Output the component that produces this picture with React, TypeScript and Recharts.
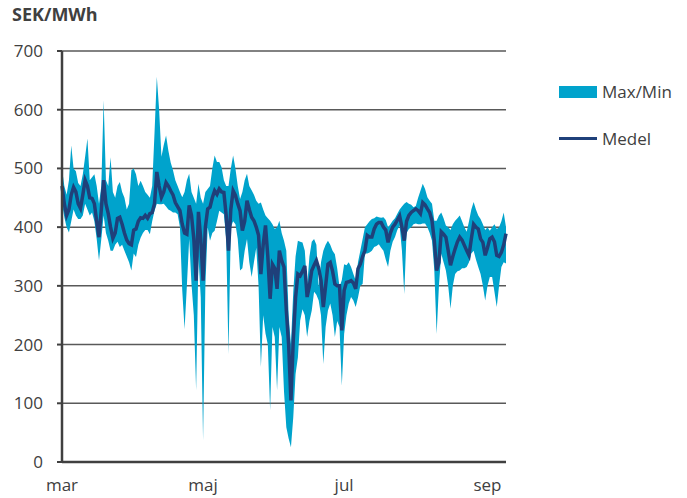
import { ComposedChart, Area, Line, XAxis, YAxis, CartesianGrid } from 'recharts';

// Daily spot prices (SEK/MWh), 1 Mar -> ~9 Sep
const monthTicks = [0, 61, 122, 184];
const monthLabels = ['mar', 'maj', 'jul', 'sep'];
const yTicks = [0, 100, 200, 300, 400, 500, 600, 700];

const medel = [
  470, 440, 420, 430, 455, 468, 460, 440, 432, 455, 480, 470, 450, 449, 440, 410, 383, 430, 480, 440, 423, 400, 381, 390, 415, 417, 405, 390, 378, 372, 370, 395,
  397, 410, 416, 415, 420, 415, 423, 425, 440, 494, 470, 451, 460, 476, 470, 462, 455, 442, 435, 428, 405, 390, 388, 437, 420, 380, 309, 426, 380, 309, 400, 431, 434,
  450, 462, 456, 465, 460, 459, 420, 360, 430, 462, 454, 440, 428, 394, 410, 445, 430, 417, 411, 400, 386, 320, 370, 403, 350, 278, 337, 330, 295, 360, 343, 332, 258,
  200, 105, 207, 280, 320, 317, 325, 334, 281, 300, 326, 335, 343, 330, 309, 264, 300, 337, 340, 325, 303, 300, 300, 224, 292, 306, 307, 309, 305, 295, 329, 337, 350,
  360, 386, 383, 383, 397, 405, 408, 408, 400, 395, 374, 390, 400, 405, 412, 419, 400, 377, 410, 420, 425, 428, 431, 428, 423, 442, 438, 431, 425, 411, 377, 326,
  340, 392, 388, 383, 360, 335, 350, 363, 375, 383, 378, 369, 360, 352, 380, 405, 400, 397, 380, 374, 352, 365, 380, 383, 375, 352, 350, 357, 370, 389,
];

const maxPris = [
  500, 470, 455, 480, 539, 500, 495, 475, 470, 490, 520, 551, 480, 485, 490, 470, 440, 470, 616, 480, 470, 519, 460, 450, 470, 477, 460, 450, 430, 440, 497, 500,
  490, 470, 479, 470, 460, 455, 450, 470, 560, 656, 600, 520, 540, 556, 530, 510, 497, 480, 470, 460, 451, 460, 480, 491, 460, 450, 440, 474, 450, 440, 460, 465, 470,
  500, 522, 511, 511, 502, 480, 470, 470, 500, 522, 500, 470, 448, 460, 480, 491, 470, 463, 455, 445, 440, 442, 430, 420, 415, 411, 405, 397, 400, 411, 390, 377, 360,
  250, 200, 290, 350, 377, 375, 374, 360, 300, 350, 375, 380, 370, 298, 340, 360, 370, 377, 370, 360, 354, 330, 298, 310, 337, 335, 340, 332, 320, 309, 340, 360, 380,
  400, 405, 410, 414, 415, 418, 417, 416, 417, 412, 400, 405, 411, 415, 423, 430, 435, 440, 443, 440, 438, 434, 436, 450, 462, 474, 465, 451, 445, 440, 411, 411,
  420, 425, 415, 403, 400, 395, 405, 411, 415, 420, 410, 400, 392, 410, 430, 443, 430, 420, 414, 405, 395, 400, 394, 400, 405, 397, 400, 410, 425, 400,
];

const minPris = [
  440, 417, 400, 391, 410, 430, 420, 414, 414, 420, 440, 430, 420, 425, 410, 380, 343, 380, 420, 390, 377, 360, 360, 370, 375, 366, 370, 360, 350, 340, 326, 355,
  349, 370, 382, 390, 395, 395, 388, 410, 428, 440, 439, 439, 440, 435, 430, 428, 425, 425, 422, 400, 292, 226, 300, 380, 303, 250, 122, 350, 280, 37, 300, 400, 377,
  390, 394, 410, 428, 425, 422, 380, 184, 400, 410, 405, 380, 326, 330, 360, 380, 340, 315, 340, 365, 300, 162, 250, 219, 200, 88, 230, 213, 122, 230, 213, 120, 59,
  40, 25, 76, 150, 178, 241, 260, 250, 213, 240, 258, 290, 285, 275, 250, 167, 230, 258, 270, 250, 213, 240, 230, 130, 218, 250, 270, 281, 275, 264, 280, 300, 303,
  355, 355, 357, 360, 366, 368, 371, 365, 360, 345, 332, 360, 375, 383, 395, 403, 360, 286, 390, 397, 400, 405, 406, 405, 405, 406, 406, 400, 390, 377, 326, 218,
  300, 355, 340, 326, 300, 261, 300, 320, 325, 326, 330, 330, 332, 340, 355, 360, 345, 332, 320, 300, 275, 300, 315, 315, 290, 264, 300, 332, 340, 338,
];

const BAND = '#00A3CC';
const MEDEL = '#1F407A';
const AXIS = '#404040';
const FONT = '"Open Sans", sans-serif';

const data = medel.map((m, i) => ({ day: i, medel: m, span: [minPris[i], maxPris[i]] }));

export default function App() {
  return (
    <div style={{ position: 'absolute', left: 0, top: 0, width: 687, height: 498, background: '#fff', fontFamily: FONT }}>
      <div style={{ position: 'absolute', left: 12, top: 2, fontSize: 18, fontWeight: 700, color: AXIS }}>
        SEK/MWh
      </div>

      <ComposedChart width={687} height={498} data={data} margin={{ top: 51, right: 181, bottom: 6, left: 0 }}>
        <CartesianGrid vertical={false} stroke="#595959" strokeWidth={1.5} />
        <Area
          type="linear"
          dataKey="span"
          stroke="none"
          fill={BAND}
          fillOpacity={1}
          dot={false}
          activeDot={false}
          isAnimationActive={false}
        />
        <Line
          type="linear"
          dataKey="medel"
          stroke={MEDEL}
          strokeWidth={3.5}
          dot={false}
          activeDot={false}
          isAnimationActive={false}
        />
        <XAxis
          dataKey="day"
          type="number"
          domain={[0, 192]}
          ticks={monthTicks}
          tickFormatter={(v) => monthLabels[monthTicks.indexOf(v)]}
          tickLine={false}
          tickSize={0}
          tickMargin={17}
          height={30}
          axisLine={{ stroke: AXIS, strokeWidth: 2.5 }}
          tick={{ fill: AXIS, fontSize: 17, fontFamily: FONT }}
        />
        <YAxis
          domain={[0, 700]}
          ticks={yTicks}
          width={62}
          tickSize={5}
          tickMargin={14}
          tickLine={{ stroke: AXIS, strokeWidth: 2 }}
          axisLine={{ stroke: AXIS, strokeWidth: 2.5 }}
          tick={{ fill: AXIS, fontSize: 17, fontFamily: FONT }}
        />
      </ComposedChart>

      <div style={{ position: 'absolute', left: 559, top: 86, width: 38, height: 12, background: BAND }} />
      <div style={{ position: 'absolute', left: 602, top: 80, fontSize: 17, color: AXIS }}>Max/Min</div>
      <div style={{ position: 'absolute', left: 559, top: 137, width: 38, height: 3, background: MEDEL }} />
      <div style={{ position: 'absolute', left: 602, top: 127, fontSize: 17, color: AXIS }}>Medel</div>
    </div>
  );
}
